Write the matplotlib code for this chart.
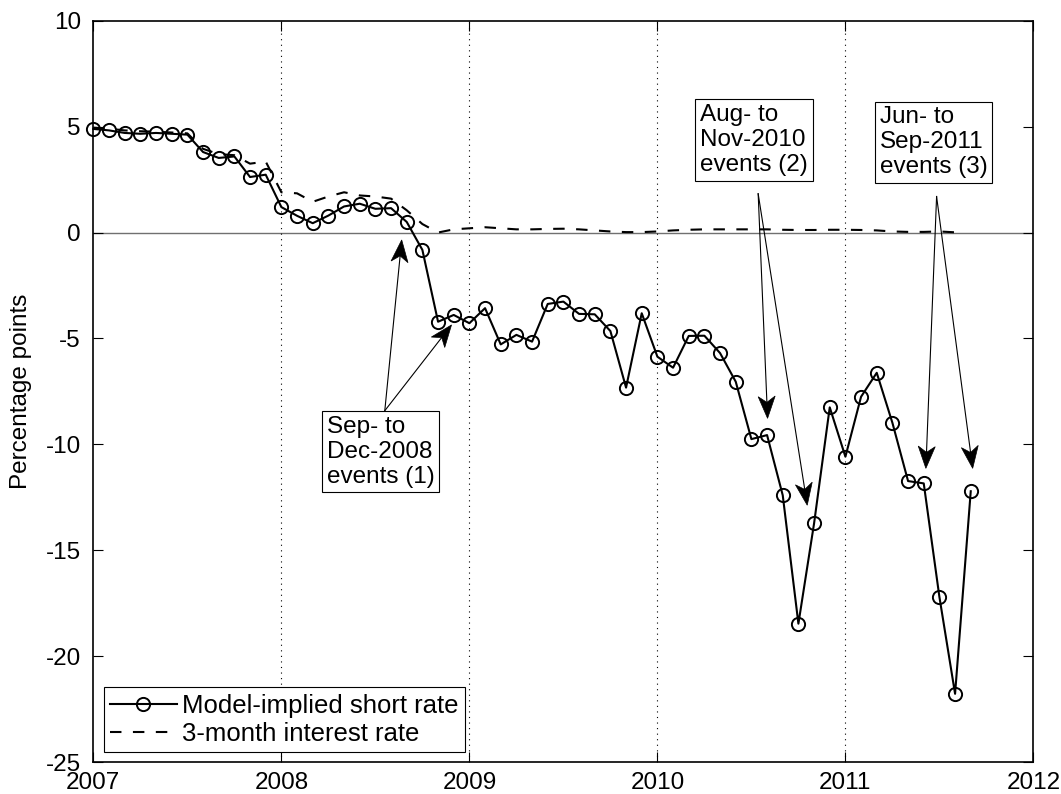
import numpy as np
import matplotlib
matplotlib.use('Agg')
import matplotlib.pyplot as plt
from matplotlib.patches import Polygon

plt.rcParams['font.family'] = ['Liberation Sans', 'DejaVu Sans']
plt.rcParams['axes.unicode_minus'] = False

# --- Dane (miesięczne, od stycznia 2007) ---
model_rate = [4.89, 4.82, 4.70, 4.66, 4.70, 4.66, 4.62, 3.80, 3.52, 3.59, 2.62, 2.73,
              1.20, 0.79, 0.44, 0.80, 1.23, 1.36, 1.12, 1.15, 0.50, -0.82, -4.21, -3.89,
              -4.28, -3.57, -5.28, -4.83, -5.15, -3.37, -3.26, -3.84, -3.86, -4.65, -7.32, -3.81,
              -5.86, -6.38, -4.88, -4.87, -5.69, -7.04, -9.75, -9.56, -12.40, -18.46, -13.73, -8.25,
              -10.58, -7.75, -6.62, -8.98, -11.73, -11.84, -17.20, -21.77, -12.21]

rate_3m = [4.95, 4.90, 4.82, 4.78, 4.76, 4.72, 4.68, 3.95, 3.70, 3.65, 3.25, 3.35,
           1.90, 1.85, 1.45, 1.70, 1.90, 1.75, 1.70, 1.60, 1.05, 0.40, 0.00, 0.15,
           0.20, 0.25, 0.20, 0.15, 0.15, 0.17, 0.18, 0.15, 0.10, 0.05, 0.02, 0.02,
           0.05, 0.10, 0.13, 0.15, 0.15, 0.15, 0.15, 0.15, 0.13, 0.12, 0.12, 0.13,
           0.13, 0.12, 0.10, 0.05, 0.03, 0.03, 0.05, 0.01]

labels = ['Model-implied short rate', '3-month interest rate']

# adnotacje: (tekst, pozycja tekstu, początek strzałek, groty strzałek)
notes = [
    ('Sep- to\nDec-2008\nevents (1)', (2008.242, -8.65), (2008.55, -8.41),
     [(2008.64, -0.35), (2008.905, -4.36)]),
    ('Aug- to\nNov-2010\nevents (2)', (2010.228, 6.06), (2010.536, 1.83),
     [(2010.586, -8.77), (2010.797, -12.87)]),
    ('Jun- to\nSep-2011\nevents (3)', (2011.182, 5.95), (2011.485, 1.70),
     [(2011.428, -11.13), (2011.677, -11.13)]),
]

FS = 17.5

t_model = 2007 + np.arange(len(model_rate)) / 12.0
t_3m = 2007 + np.arange(len(rate_3m)) / 12.0

fig = plt.figure(figsize=(10.61, 7.94), dpi=100)
ax = fig.add_axes([0.088, 0.040, 0.886, 0.934])

ax.axhline(0, color='#707070', lw=1.0, zorder=1)
for yr in [2008, 2009, 2010, 2011]:
    ax.axvline(yr, color='k', lw=0.8, ls=(0, (1, 4)), zorder=1)

ax.plot(t_model, model_rate, '-o', color='k', lw=1.5, ms=9.5,
        mfc='none', mew=1.4, label=labels[0], zorder=3, clip_on=False)
ax.plot(t_3m, rate_3m, '--', color='k', lw=1.5, dashes=(5.5, 5.5),
        label=labels[1], zorder=2)

ax.set_xlim(2007, 2012)
ax.set_ylim(-25, 10)
ax.set_xticks([2007, 2008, 2009, 2010, 2011, 2012])
ax.set_yticks([-25, -20, -15, -10, -5, 0, 5, 10])
ax.tick_params(direction='in', top=True, right=True, labelsize=FS, length=7, width=0.8)
ax.tick_params(axis='y', pad=9)
ax.tick_params(axis='x', pad=7)
ax.set_ylabel('Percentage points', fontsize=FS, labelpad=10)
for s in ax.spines.values():
    s.set_linewidth(1.2)


def notched_arrow(ax, tail, tip, hl=22, hw=8.5, notch=6):
    # strzałka w stylu MATLAB-a (grot z wcięciem), liczona w pikselach
    tr = ax.transData
    p0 = np.array(tr.transform(tail))
    p1 = np.array(tr.transform(tip))
    d = p1 - p0
    d = d / np.hypot(*d)
    n = np.array([-d[1], d[0]])
    base = p1 - d * hl
    back = p1 - d * (hl - notch)
    b = tr.inverted().transform(back)
    ax.plot([tail[0], b[0]], [tail[1], b[1]], color='k', lw=0.8, zorder=4)
    pts = [p1, base + n * hw, back, base - n * hw]
    pts = tr.inverted().transform(np.array(pts))
    ax.add_patch(Polygon(pts, closed=True, fc='k', ec='k', lw=0.5, zorder=4))


for text, pos, tail, tips in notes:
    ax.text(pos[0], pos[1], text, fontsize=FS, ha='left', va='top',
            linespacing=1.17,
            bbox=dict(boxstyle='square,pad=0.2', fc='white', ec='k', lw=0.8),
            zorder=5)
    for tip in tips:
        notched_arrow(ax, tail, tip)

leg = ax.legend(loc='lower left', fontsize=18.5, fancybox=False, edgecolor='k',
                framealpha=1, borderaxespad=0.4, handlelength=2.6,
                labelspacing=0.15, borderpad=0.25, handletextpad=0.2)
leg.get_frame().set_linewidth(0.8)

fig.savefig('out.png', dpi=100)
